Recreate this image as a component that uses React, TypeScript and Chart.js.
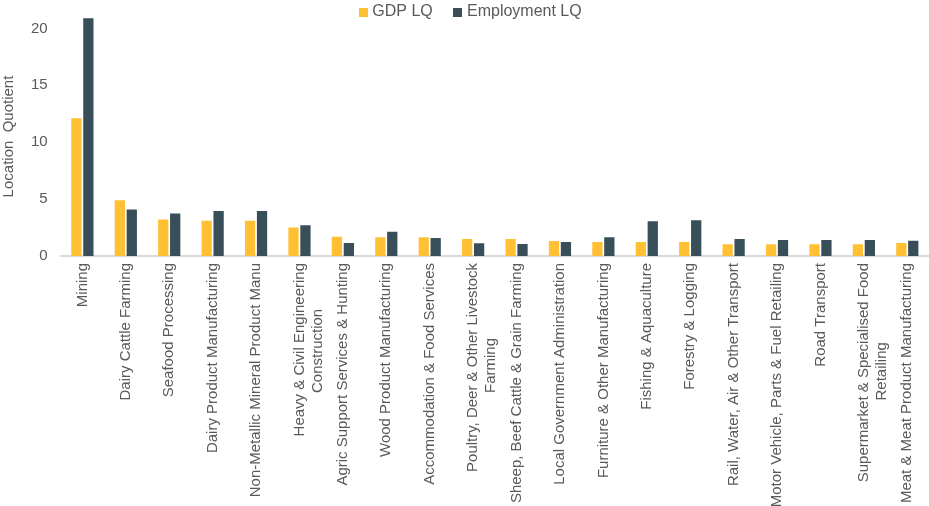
import React, { useEffect, useRef } from "react";
import { Chart, registerables } from "chart.js";

Chart.register(...registerables);

const categories: (string | string[])[] = [
  "Mining",
  "Dairy Cattle Farming",
  "Seafood Processing",
  "Dairy Product Manufacturing",
  "Non-Metallic Mineral Product Manu",
  ["Heavy & Civil Engineering", "Construction"],
  "Agric Support Services & Hunting",
  "Wood Product Manufacturing",
  "Accommodation & Food Services",
  ["Poultry, Deer & Other Livestock", "Farming"],
  "Sheep, Beef Cattle & Grain Farming",
  "Local Government Administration",
  "Furniture & Other Manufacturing",
  "Fishing & Aquaculture",
  "Forestry & Logging",
  "Rail, Water, Air & Other Transport",
  "Motor Vehicle, Parts & Fuel Retailing",
  "Road Transport",
  ["Supermarket & Specialised Food", "Retailing"],
  "Meat & Meat Product Manufacturing",
];

const gdpLQ = [12.1, 4.9, 3.2, 3.1, 3.1, 2.5, 1.7, 1.65, 1.65, 1.5, 1.5, 1.32, 1.23, 1.23, 1.23, 1.03, 1.03, 1.03, 1.03, 1.15];
const employmentLQ = [20.9, 4.08, 3.73, 3.96, 3.96, 2.7, 1.15, 2.14, 1.59, 1.12, 1.06, 1.23, 1.65, 3.05, 3.14, 1.5, 1.41, 1.41, 1.41, 1.35];

const yTicks = [0, 5, 10, 15, 20];

const GDP_COLOR = "#FFC133";
const EMP_COLOR = "#384E58";

const FONT = "'Liberation Sans', Arial, sans-serif";
const X_FONT_SIZE = 15;

// Centre the continuation lines of wrapped labels under the first line
function centreLines(labels: (string | string[])[]): (string | string[])[] {
  const c = document.createElement("canvas").getContext("2d")!;
  c.font = `${X_FONT_SIZE}px ${FONT}`;
  const sp = c.measureText(" ").width;
  return labels.map((l) => {
    if (!Array.isArray(l)) return l;
    const w0 = c.measureText(l[0]).width;
    return l.map((line, i) => {
      if (i === 0) return line;
      const w = c.measureText(line).width;
      const n = Math.max(0, Math.round((w0 - w) / 2 / sp));
      return line + " ".repeat(n);
    });
  });
}

function swatch(color: string): HTMLCanvasElement {
  const c = document.createElement("canvas");
  c.width = 9;
  c.height = 9;
  const g = c.getContext("2d")!;
  g.fillStyle = color;
  g.fillRect(0, 0, 9, 9);
  return c;
}

const SHRINK = 11;
const LEGEND_DX = 5;
const LEGEND_DY = 2;
const legendShrink = {
  id: "legendShrink",
  beforeInit(chart: any) {
    const lg = chart.legend;
    if (!lg) return;
    const f = lg.fit;
    lg.fit = function () {
      f.call(this);
      this.height = Math.max(0, this.height - SHRINK);
    };
    const d = lg.draw;
    lg.draw = function () {
      const ctx = this.ctx;
      ctx.save();
      ctx.translate(LEGEND_DX, LEGEND_DY);
      this.bottom += SHRINK;
      this.height += SHRINK;
      d.call(this);
      this.bottom -= SHRINK;
      this.height -= SHRINK;
      ctx.restore();
    };
  },
};

export default function App() {
  const ref = useRef<HTMLCanvasElement>(null);
  useEffect(() => {
    if (!ref.current) return;
    const swatches = [swatch(GDP_COLOR), swatch(EMP_COLOR)];
    const chart = new Chart(ref.current, {
      type: "bar",
      data: {
        labels: centreLines(categories),
        datasets: [
          {
            label: "GDP LQ",
            data: gdpLQ,
            backgroundColor: GDP_COLOR,
            categoryPercentage: 0.55,
            barPercentage: 0.86,
          },
          {
            label: "Employment LQ",
            data: employmentLQ,
            backgroundColor: EMP_COLOR,
            categoryPercentage: 0.55,
            barPercentage: 0.86,
          },
        ],
      },
      plugins: [legendShrink],
      options: {
        animation: false,
        responsive: true,
        maintainAspectRatio: false,
        layout: { padding: { left: 0, right: -5, top: 0, bottom: -6 } },
        plugins: {
          legend: {
            position: "top",
            labels: {
              usePointStyle: true,
              pointStyleWidth: 2,
              boxWidth: 2,
              boxHeight: 9,
              color: "#595959",
              font: { family: FONT, size: 16 },
              padding: 2,
              generateLabels: (chart: any) =>
                Chart.defaults.plugins.legend.labels
                  .generateLabels(chart)
                  .map((l: any, i: number) => ({
                    ...l,
                    pointStyle: swatches[i],
                    text: i === 0 ? l.text + "     " : l.text,
                  })),
            },
          },
          tooltip: { enabled: false },
        },
        scales: {
          x: {
            afterFit: (s: any) => {
              s.paddingLeft = 0;
              s.paddingRight = 0;
            },
            grid: { display: false, drawTicks: false },
            border: { color: "#D9D9D9", width: 2 },
            ticks: {
              minRotation: 90,
              maxRotation: 90,
              autoSkip: false,
              color: "#595959",
              font: { family: FONT, size: X_FONT_SIZE },
              padding: 7,
            },
          },
          y: {
            min: 0,
            max: 21,
            afterBuildTicks: (axis: any) => {
              axis.ticks = yTicks.map((v) => ({ value: v }));
            },
            afterFit: (s: any) => {
              s.paddingTop = 0;
            },
            grid: { display: false, drawTicks: false },
            border: { display: false },
            ticks: {
              color: "#595959",
              font: { family: FONT, size: 15 },
              padding: 13,
            },
            title: {
              display: true,
              text: "Location  Quotient",
              color: "#595959",
              font: { family: FONT, size: 15 },
              padding: 0,
            },
          },
        },
      },
    });
    return () => chart.destroy();
  }, []);
  return (
    <div style={{ position: "fixed", left: 0, top: 0, width: 929, height: 506, background: "#fff" }}>
      <canvas ref={ref} />
    </div>
  );
}
